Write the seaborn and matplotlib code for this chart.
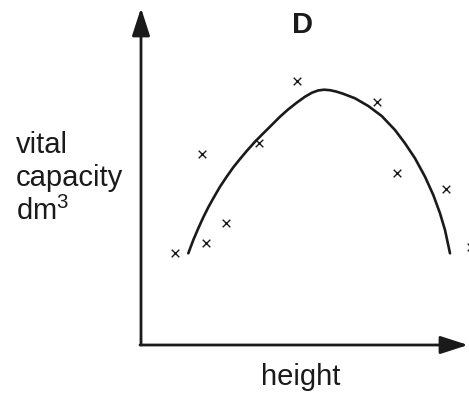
import matplotlib
matplotlib.use("Agg")
import matplotlib.pyplot as plt
import seaborn as sns
import pandas as pd

point_x = [3.4, 6.1, 6.5, 8.5, 11.8, 15.6, 23.6, 25.6, 30.5, 33.0]
point_y = [9.2, 19.1, 10.2, 12.2, 20.2, 26.4, 24.3, 17.2, 15.6, 9.8]

# Fitted curve
curve_x = [4.73, 5.23, 5.73, 6.23, 6.73, 7.23, 7.9, 8.57, 9.23, 9.9, 10.57, 11.4, 12.23, 13.07,
           13.9, 14.73, 15.57, 16.4, 17.1, 17.7, 18.3, 18.9, 19.5, 20.2, 21.4, 22.73, 24.07, 25.4,
           26.4, 27.4, 28.4, 29.23, 29.9, 30.4, 30.9]
curve_y = [9.17, 10.5, 11.67, 12.77, 13.77, 14.67, 15.83, 16.83, 17.77, 18.6, 19.4, 20.33, 21.17, 22.0,
           22.83, 23.57, 24.23, 24.83, 25.23, 25.45, 25.53, 25.48, 25.35, 25.13, 24.67, 23.9, 22.9, 21.5,
           20.17, 18.67, 16.83, 15.0, 13.17, 11.5, 9.17]

title = "D"
xlabel = "height"
ylabel_lines = ["vital", "capacity", "dm$^{3}$"]

sns.set_style("white")
plt.rcParams['font.family'] = ['Liberation Sans', 'DejaVu Sans']
plt.rcParams['mathtext.fontset'] = 'custom'
plt.rcParams['mathtext.rm'] = 'Liberation Sans'
plt.rcParams['mathtext.it'] = 'Liberation Sans'
plt.rcParams['mathtext.default'] = 'regular'

W, H = 469, 394
fig = plt.figure(figsize=(W / 100, H / 100), dpi=100)
ax = fig.add_axes([141 / W, (H - 345) / H, (468 - 141) / W, (345 - 8) / H])
ax.set_xlim(0, 32.7)
ax.set_ylim(0, 33.7)
for s in ax.spines.values():
    s.set_visible(False)
ax.set_xticks([])
ax.set_yticks([])

curve = pd.DataFrame({"x": curve_x, "y": curve_y})
pts = pd.DataFrame({"x": point_x, "y": point_y})

sns.lineplot(data=curve, x="x", y="y", sort=False, estimator=None, color="#1a1a1a", lw=1.9, ax=ax)
sns.scatterplot(data=pts, x="x", y="y", marker="x", s=30, color="#1a1a1a", linewidth=1.0, ax=ax)
for c in ax.collections:
    c.set_clip_on(False)
ax.set_xlabel("")
ax.set_ylabel("")

arrow_kw = dict(arrowstyle="-|>,head_length=1.3,head_width=0.42", color="#1a1a1a", lw=2.0,
                shrinkA=0, shrinkB=0, mutation_scale=13)
ax.annotate("", xy=(0, 1), xytext=(0, 0), xycoords="axes fraction", textcoords="axes fraction",
            arrowprops=arrow_kw, annotation_clip=False)
ax.annotate("", xy=(1, 0), xytext=(-0.003, 0), xycoords="axes fraction", textcoords="axes fraction",
            arrowprops=arrow_kw, annotation_clip=False)

fig.text(302 / W, 1 - 33 / H, title, ha="center", va="baseline", fontsize=21, fontweight="bold", color="#1a1a1a")
fig.text(301 / W, 1 - 385 / H, xlabel, ha="center", va="baseline", fontsize=21, color="#1a1a1a")
for line, base in zip(ylabel_lines, [153, 186, 220]):
    fig.text(16 / W, 1 - base / H, line, ha="left", va="baseline", fontsize=21, color="#1a1a1a")

fig.savefig("out.png", dpi=100, facecolor="white")
